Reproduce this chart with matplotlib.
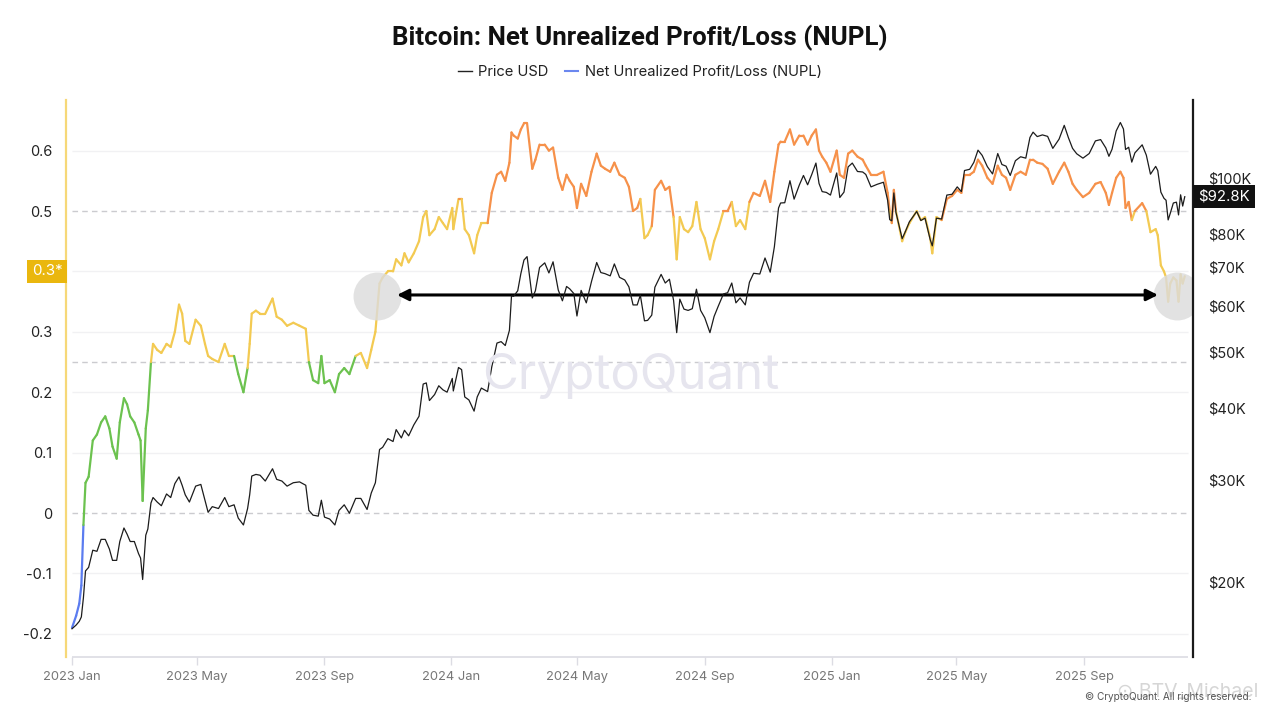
import matplotlib
matplotlib.use('Agg')
import matplotlib.pyplot as plt
import matplotlib.dates as mdates
from matplotlib.collections import LineCollection
from matplotlib.lines import Line2D
from matplotlib.transforms import blended_transform_factory
import numpy as np
import pandas as pd

# ---------------- data ----------------
dates = [
 "2023-01-01","2023-01-05","2023-01-08","2023-01-10","2023-01-12","2023-01-14","2023-01-17","2023-01-21","2023-01-25","2023-01-29",
 "2023-02-02","2023-02-06","2023-02-09","2023-02-13","2023-02-16","2023-02-20","2023-02-23","2023-02-26","2023-03-02","2023-03-06",
 "2023-03-08","2023-03-10","2023-03-13","2023-03-15","2023-03-18","2023-03-20","2023-03-24","2023-03-28","2023-04-02","2023-04-06",
 "2023-04-10","2023-04-14","2023-04-17","2023-04-20","2023-04-24","2023-04-30","2023-05-05","2023-05-09","2023-05-12","2023-05-16",
 "2023-05-22","2023-05-28","2023-06-01","2023-06-06","2023-06-10","2023-06-15","2023-06-19","2023-06-21","2023-06-23","2023-06-27",
 "2023-07-01","2023-07-06","2023-07-13","2023-07-17","2023-07-22","2023-07-27","2023-08-02","2023-08-08","2023-08-14","2023-08-17",
 "2023-08-21","2023-08-26","2023-08-29","2023-09-01","2023-09-06","2023-09-11","2023-09-15","2023-09-20","2023-09-25","2023-10-01",
 "2023-10-06","2023-10-12","2023-10-16","2023-10-20","2023-10-24","2023-10-27","2023-11-01","2023-11-06","2023-11-09","2023-11-14",
 "2023-11-17","2023-11-21","2023-11-26","2023-12-01","2023-12-05","2023-12-08","2023-12-11","2023-12-16","2023-12-20","2023-12-24",
 "2023-12-28","2024-01-02","2024-01-03","2024-01-08","2024-01-11","2024-01-14","2024-01-18","2024-01-23","2024-01-26","2024-01-30",
 "2024-02-05","2024-02-09","2024-02-14","2024-02-18","2024-02-22","2024-02-26","2024-02-28","2024-03-01","2024-03-05","2024-03-08",
 "2024-03-11","2024-03-14","2024-03-19","2024-03-22","2024-03-26","2024-03-31","2024-04-04","2024-04-08","2024-04-13","2024-04-17",
 "2024-04-21","2024-04-24","2024-04-28","2024-05-01","2024-05-05","2024-05-10","2024-05-15","2024-05-20","2024-05-24","2024-05-28",
 "2024-06-02","2024-06-06","2024-06-11","2024-06-16","2024-06-20","2024-06-24","2024-06-28","2024-07-01","2024-07-05","2024-07-08",
 "2024-07-12","2024-07-15","2024-07-21","2024-07-25","2024-07-29","2024-08-02","2024-08-05","2024-08-08","2024-08-12","2024-08-16",
 "2024-08-20","2024-08-24","2024-08-28","2024-09-01","2024-09-06","2024-09-10","2024-09-14","2024-09-19","2024-09-23","2024-09-27",
 "2024-10-01","2024-10-05","2024-10-10","2024-10-14","2024-10-18","2024-10-24","2024-10-29","2024-11-03","2024-11-07","2024-11-11",
 "2024-11-13","2024-11-17","2024-11-22","2024-11-26","2024-12-01","2024-12-05","2024-12-09","2024-12-13","2024-12-17","2024-12-20",
 "2024-12-23","2024-12-27","2024-12-31","2025-01-06","2025-01-09","2025-01-13","2025-01-17","2025-01-21","2025-01-26","2025-01-31",
 "2025-02-03","2025-02-08","2025-02-14","2025-02-20","2025-02-24","2025-02-26","2025-02-28","2025-03-02","2025-03-04","2025-03-10",
 "2025-03-13","2025-03-17","2025-03-24","2025-03-28","2025-04-01","2025-04-06","2025-04-08","2025-04-12","2025-04-17","2025-04-22",
 "2025-04-27","2025-05-02","2025-05-06","2025-05-09","2025-05-14","2025-05-18","2025-05-22","2025-05-26","2025-05-31","2025-06-05",
 "2025-06-10","2025-06-14","2025-06-18","2025-06-22","2025-06-27","2025-07-02","2025-07-07","2025-07-11","2025-07-14","2025-07-18",
 "2025-07-23","2025-07-28","2025-08-02","2025-08-08","2025-08-13","2025-08-17","2025-08-21","2025-08-25","2025-08-31","2025-09-06",
 "2025-09-12","2025-09-17","2025-09-22","2025-09-25","2025-09-28","2025-10-02","2025-10-06","2025-10-09","2025-10-11","2025-10-14",
 "2025-10-17","2025-10-20","2025-10-27","2025-10-31","2025-11-04","2025-11-09","2025-11-11","2025-11-14","2025-11-17","2025-11-19",
 "2025-11-21","2025-11-23","2025-11-26","2025-11-29","2025-12-01","2025-12-03","2025-12-05","2025-12-07",
]

price_usd = [
 16600,16850,17100,17400,18800,20900,21200,22700,22600,23700,
 23700,22800,21800,21800,23500,24800,24200,23500,23500,22400,
 22000,20200,24100,24700,27400,28000,27500,27100,28400,28000,
 29600,30400,29400,28300,27500,29300,29500,27700,26400,27000,
 26800,28000,27000,27200,25800,25100,26800,28300,30500,30700,
 30600,29900,31400,30100,29900,29300,29700,29800,29400,26600,
 26100,26000,27700,25900,25700,25100,26600,27200,26300,27900,
 27900,26700,28500,29700,33900,34200,35400,35000,36700,35500,
 36600,35800,37400,38700,44000,44200,41200,42200,43700,43000,
 42600,45000,42800,47000,46600,41800,41300,39500,41800,43300,
 42700,47100,51800,52100,51300,54500,62500,62400,63800,68300,
 72100,73100,62000,63800,70000,71300,68500,71600,64000,61300,
 64900,64300,63100,57700,63900,60800,66200,71400,68600,68300,
 67700,71000,67300,66600,64800,60300,60300,62700,56600,56700,
 57900,64700,68100,65800,66800,61400,54000,61700,59300,59000,
 59400,64200,59000,57300,54000,57600,60000,63000,63300,65800,
 60800,62000,60300,66000,68400,68200,72700,68700,76000,88700,
 90500,90600,98900,91900,97200,101000,97300,101400,106100,97800,
 94700,94400,93400,102000,92500,94500,104500,106100,102600,102400,
 101400,96500,97500,98300,91500,84700,84300,94200,87200,78500,
 80700,84000,87500,84400,85200,78200,76300,85200,84900,93400,
 93700,96500,94700,103000,103500,106400,111700,109400,104600,101600,
 110200,105500,104800,101000,107100,108800,108200,117500,120000,117900,
 118700,118000,112500,116700,123300,117400,112500,110100,108200,110200,
 115900,116500,112700,109000,112100,120600,124700,121500,112000,113000,
 106500,110500,114100,109500,101500,104700,103000,94500,92200,91500,
 84600,86800,90500,90800,86300,93500,89400,92800,
]

nupl = [
 -0.19,-0.17,-0.15,-0.12,-0.02,0.05,0.06,0.12,0.13,0.15,
 0.16,0.14,0.11,0.09,0.15,0.19,0.18,0.16,0.15,0.13,
 0.12,0.02,0.14,0.17,0.25,0.28,0.27,0.265,0.28,0.275,
 0.30,0.345,0.33,0.285,0.28,0.32,0.31,0.28,0.26,0.255,
 0.25,0.28,0.26,0.26,0.23,0.20,0.24,0.28,0.33,0.335,
 0.33,0.33,0.355,0.325,0.32,0.31,0.315,0.31,0.305,0.25,
 0.22,0.215,0.26,0.215,0.22,0.20,0.23,0.24,0.23,0.26,
 0.265,0.24,0.27,0.30,0.38,0.39,0.40,0.40,0.42,0.41,
 0.43,0.415,0.43,0.45,0.49,0.50,0.46,0.47,0.49,0.48,
 0.47,0.505,0.47,0.52,0.52,0.47,0.46,0.43,0.46,0.48,
 0.48,0.53,0.56,0.565,0.55,0.58,0.63,0.625,0.62,0.635,
 0.645,0.645,0.57,0.585,0.61,0.61,0.60,0.605,0.555,0.535,
 0.56,0.55,0.54,0.505,0.545,0.525,0.565,0.595,0.575,0.57,
 0.565,0.58,0.56,0.555,0.54,0.50,0.505,0.52,0.455,0.46,
 0.475,0.535,0.55,0.535,0.54,0.49,0.42,0.49,0.47,0.465,
 0.475,0.515,0.47,0.455,0.42,0.45,0.47,0.50,0.50,0.515,
 0.475,0.485,0.47,0.515,0.53,0.525,0.55,0.515,0.565,0.61,
 0.615,0.615,0.635,0.61,0.625,0.625,0.61,0.625,0.635,0.60,
 0.59,0.58,0.565,0.60,0.56,0.555,0.595,0.60,0.59,0.585,
 0.575,0.56,0.56,0.565,0.53,0.50,0.48,0.535,0.50,0.45,
 0.465,0.48,0.50,0.485,0.49,0.455,0.43,0.49,0.485,0.52,
 0.525,0.535,0.53,0.56,0.56,0.565,0.585,0.575,0.555,0.545,
 0.575,0.56,0.555,0.535,0.56,0.565,0.56,0.585,0.585,0.58,
 0.578,0.57,0.545,0.565,0.58,0.565,0.545,0.535,0.523,0.53,
 0.545,0.548,0.53,0.51,0.53,0.555,0.565,0.555,0.505,0.515,
 0.485,0.50,0.513,0.50,0.465,0.47,0.46,0.41,0.40,0.39,
 0.35,0.38,0.39,0.385,0.35,0.395,0.38,0.392,
]

month_ticks = ["2023-01-01","2023-05-01","2023-09-01","2024-01-01","2024-05-01",
               "2024-09-01","2025-01-01","2025-05-01","2025-09-01"]
month_labels = ["2023 Jan","2023 May","2023 Sep","2024 Jan","2024 May",
                "2024 Sep","2025 Jan","2025 May","2025 Sep"]
nupl_ticks = [-0.2, -0.1, 0, 0.1, 0.2, 0.3, 0.5, 0.6]
nupl_tick_labels = ["-0.2", "-0.1", "0", "0.1", "0.2", "0.3", "0.5", "0.6"]
price_ticks = [20000, 30000, 40000, 50000, 60000, 70000, 80000, 100000]
price_tick_labels = ["$20K", "$30K", "$40K", "$50K", "$60K", "$70K", "$80K", "$100K"]
last_price_label = "$92.8K"

# ---------------- style ----------------
plt.rcParams['font.family'] = ['Inter', 'DejaVu Sans']
W, H = 1280, 719
fig = plt.figure(figsize=(W / 100, H / 100), dpi=100)
fig.patch.set_facecolor('white')
L, R, T, B = 66, 1193, 100, 657
ax = fig.add_axes([L / W, 1 - B / H, (R - L) / W, (B - T) / H])
ax2 = ax.twinx()

start = pd.Timestamp("2023-01-01")
px_per_day = 1.039
def day_at(px):
    return start + pd.Timedelta(days=(px - 72) / px_per_day)

xnum = mdates.date2num(pd.to_datetime(dates))
x0 = mdates.date2num(day_at(L))
x1 = mdates.date2num(day_at(R))
ax.set_xlim(x0, x1)
ymin, ymax = -0.2384, 0.6838
ax.set_ylim(ymin, ymax)
ax2.set_yscale('log')
ax2.set_ylim(14835, 136400)

# grid
gx0 = mdates.date2num(start)
gx1 = mdates.date2num(day_at(1188))
for v in [-0.2, -0.1, 0.1, 0.2, 0.3, 0.4, 0.6]:
    ax.hlines(v, gx0, gx1, color='#f1f1f3', lw=1, zorder=0)
for v in [0.0, 0.25, 0.5]:
    ax.hlines(v, gx0, gx1, color='#cbcbcf', lw=1, linestyles=(0, (4, 3)), zorder=1)
ax.hlines(ymin, gx0, gx1, color='#dcdce3', lw=1.2, zorder=1, clip_on=False)

# watermark
fig.text(631 / W, 1 - 376 / H, "CryptoQuant",
         ha='center', va='center', fontsize=35.5, color='#e6e5ee', zorder=0.5)
ax.patch.set_alpha(0)

# NUPL coloured line
vals = np.array(nupl)
pts = np.column_stack([xnum, vals])
segs = np.stack([pts[:-1], pts[1:]], axis=1)
mid = (vals[:-1] + vals[1:]) / 2
def zone_color(v):
    if v < 0:
        return '#5b7cf0'
    if v < 0.25:
        return '#6cc24f'
    if v < 0.5:
        return '#f3ca52'
    return '#f6914a'
lc = LineCollection(segs, colors=[zone_color(v) for v in mid], linewidths=1.6,
                    capstyle='round', joinstyle='round', zorder=3)
ax.add_collection(lc)

# price line
ax2.plot(xnum, price_usd, color='#1c1c1c', lw=0.9, zorder=3)

# circles and arrow (annotations)
c_left = mdates.date2num(day_at(376.7))
c_right = mdates.date2num(day_at(1177))
y_mark = (513 - 296) / 604
for cx in (c_left, c_right):
    ax.plot(cx, y_mark, 'o', ms=34.5, color='#dcdcdc', alpha=0.82, mec='none', zorder=5)
ax.annotate('', xy=(mdates.date2num(day_at(397)), 0.361),
            xytext=(mdates.date2num(day_at(1158)), 0.361),
            arrowprops=dict(arrowstyle='<|-|>', lw=2.2, color='black',
                            mutation_scale=17, shrinkA=0, shrinkB=0), zorder=6)

# spines
for s in ['top', 'right', 'bottom']:
    ax.spines[s].set_visible(False)
ax.spines['left'].set_color('#f6d878')
ax.spines['left'].set_linewidth(1.6)
for s in ['top', 'left', 'bottom']:
    ax2.spines[s].set_visible(False)
ax2.spines['right'].set_color('#1a1a1a')
ax2.spines['right'].set_linewidth(1.6)
ax2.patch.set_visible(False)

# ticks
ax.set_yticks(nupl_ticks)
ax.set_yticklabels(nupl_tick_labels)
ax.tick_params(axis='y', length=0, pad=10, labelsize=10.5, labelcolor='#222222')
ax.set_xticks(mdates.date2num(pd.to_datetime(month_ticks)))
ax.set_xticklabels(month_labels)
ax.tick_params(axis='x', length=6, width=1, color='#dcdce3', pad=4,
               labelsize=9.3, labelcolor='#777777')
ax2.set_yticks(price_ticks)
ax2.set_yticklabels(price_tick_labels)
ax2.yaxis.set_minor_locator(matplotlib.ticker.NullLocator())
ax2.tick_params(axis='y', length=0, pad=11, labelsize=10.5, labelcolor='#222222')

# badges
ax.text(-0.003, 0.4, "0.3*", transform=blended_transform_factory(ax.transAxes, ax.transData),
        ha='right', va='center', fontsize=10.8, color='white', zorder=10,
        bbox=dict(boxstyle='square,pad=0.32', fc='#eab70e', ec='none'))
ax2.text(1.0045, 92800, last_price_label,
         transform=blended_transform_factory(ax2.transAxes, ax2.transData),
         ha='left', va='center', fontsize=10.8, color='white', zorder=10,
         bbox=dict(boxstyle='square,pad=0.32', fc='#111111', ec='none'))

# title and legend
fig.text(0.5, 1 - 38 / H, "Bitcoin: Net Unrealized Profit/Loss (NUPL)", ha='center', va='center',
         fontsize=18.6, fontweight='bold', color='#111111', family=['Roboto', 'DejaVu Sans'])
handles = [Line2D([], [], color='#222222', lw=1), Line2D([], [], color='#6b87ef', lw=1.5)]
fig.legend(handles, ["Price USD", "Net Unrealized Profit/Loss (NUPL)"], loc='center',
           bbox_to_anchor=(0.5, 1 - 72 / H), ncol=2, frameon=False, fontsize=10.6,
           handlelength=0.9, handletextpad=0.45, columnspacing=1.1, labelcolor='#222222')

# footer watermarks
fig.text(1188 / W, 1 - 692 / H, "⊙ BTV_Michael", ha='center', va='center', fontsize=14,
         color='#cfcfcf', alpha=0.85)
fig.text(1168 / W, 1 - 697 / H, "© CryptoQuant. All rights reserved.", ha='center', va='center',
         fontsize=7.2, color='#555555')

fig.savefig("out.png", dpi=100, facecolor='white')
